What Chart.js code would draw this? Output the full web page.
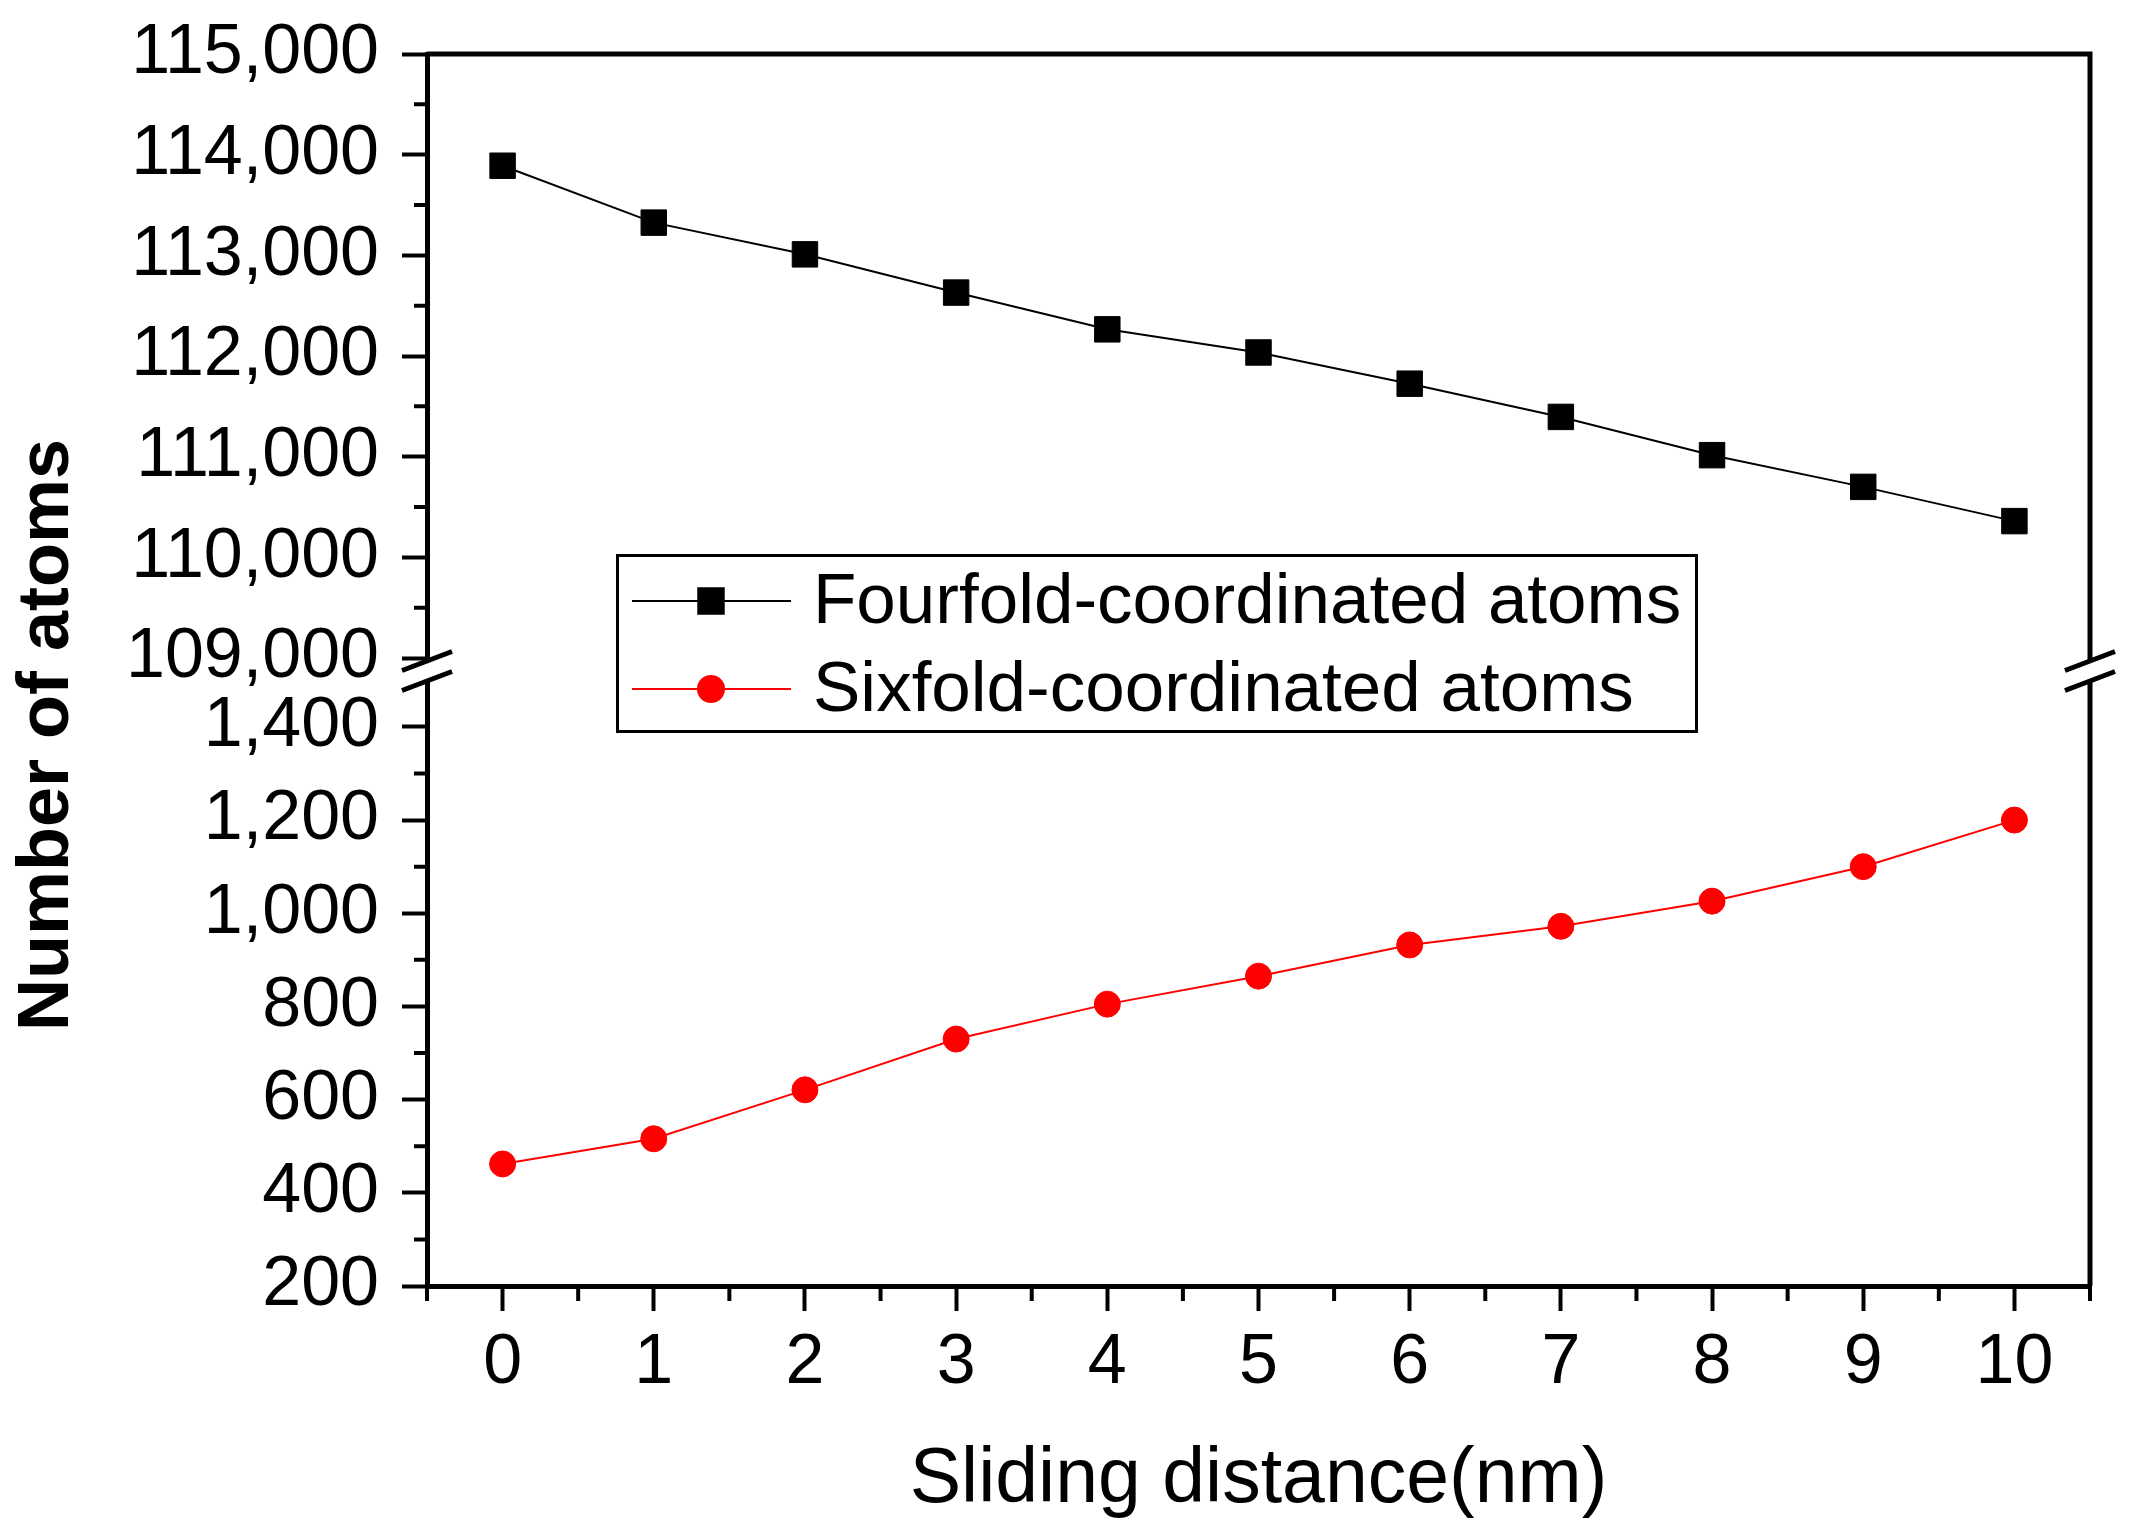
<!DOCTYPE html>
<html lang="en">
<head>
  <meta charset="UTF-8" />
  <title>Number of atoms vs sliding distance</title>
  <script src="https://cdn.jsdelivr.net/npm/chart.js@4"></script>
  <style>
    html, body { margin: 0; padding: 0; background: #fff; }
    canvas { display: block; }
  </style>
</head>
<body>
  <canvas id="atomsChart" width="2139" height="1532"></canvas>
  <script>
    // data
    const distance = [0, 1, 2, 3, 4, 5, 6, 7, 8, 9, 10];
    const fourfold = [113890, 113325, 113010, 112630, 112265, 112035, 111725, 111395, 111015, 110700, 110360];
    const sixfold = [462, 516, 621, 730, 805, 865, 932, 972, 1026, 1100, 1200];
    const seriesNames = ['Fourfold-coordinated atoms', 'Sixfold-coordinated atoms'];

    // tick values
    const upperTicks = [109000, 110000, 111000, 112000, 113000, 114000, 115000];
    const upperMinor = [109500, 110500, 111500, 112500, 113500, 114500];
    const lowerTicks = [200, 400, 600, 800, 1000, 1200, 1400];
    const lowerMinor = [300, 500, 700, 900, 1100, 1300];
    const xMinor = [-0.5, 0.5, 1.5, 2.5, 3.5, 4.5, 5.5, 6.5, 7.5, 8.5, 9.5, 10.5];

    const FONT = '"Liberation Sans", Arial, Helvetica, sans-serif';
    Chart.defaults.font.family = FONT;
    Chart.defaults.color = '#000';

    const axisGrid = {
      drawOnChartArea: false,
      drawTicks: true,
      tickLength: 25,
      tickWidth: 4,
      tickColor: '#000'
    };
    const axisBorder = { display: true, width: 5, color: '#000' };

    // keep tick labels from pushing the plot area around
    function fixY(s) {
      s.width = 427;
      s.paddingTop = 0;
      s.paddingBottom = 0;
    }

    // minor ticks, break marks, frame, y title and legend
    const decorations = {
      id: 'decorations',
      afterDraw(chart) {
        const ctx = chart.ctx;
        const area = chart.chartArea;
        const sx = chart.scales.x, sTop = chart.scales.yTop, sBot = chart.scales.yBottom;

        ctx.save();
        ctx.strokeStyle = '#000';
        ctx.lineWidth = 4;
        ctx.beginPath();
        xMinor.forEach(v => {
          const px = sx.getPixelForValue(v);
          ctx.moveTo(px, area.bottom);
          ctx.lineTo(px, area.bottom + 15);
        });
        upperMinor.forEach(v => {
          const py = sTop.getPixelForValue(v);
          ctx.moveTo(area.left, py);
          ctx.lineTo(area.left - 13, py);
        });
        lowerMinor.forEach(v => {
          const py = sBot.getPixelForValue(v);
          ctx.moveTo(area.left, py);
          ctx.lineTo(area.left - 13, py);
        });
        ctx.stroke();

        // top and right frame
        ctx.lineWidth = 5;
        ctx.beginPath();
        ctx.moveTo(area.left, area.top);
        ctx.lineTo(area.right, area.top);
        ctx.lineTo(area.right, area.bottom);
        ctx.stroke();

        // axis break between the two stacked scales
        const yb = sTop.bottom;
        [area.left, area.right].forEach(x => {
          ctx.fillStyle = '#fff';
          ctx.fillRect(x - 6, yb - 10, 12, 20);
          ctx.beginPath();
          [yb - 10, yb + 10].forEach(y => {
            ctx.moveTo(x - 25, y + 9.5);
            ctx.lineTo(x + 25, y - 9.5);
          });
          ctx.stroke();
        });

        // y axis title
        ctx.fillStyle = '#000';
        ctx.font = 'bold 72px ' + FONT;
        ctx.textAlign = 'center';
        ctx.textBaseline = 'middle';
        ctx.translate(48, 735);
        ctx.rotate(-Math.PI / 2);
        ctx.fillText('Number of atoms', 0, 0);
        ctx.restore();

        // legend
        ctx.save();
        ctx.strokeStyle = '#000';
        ctx.lineWidth = 3;
        ctx.strokeRect(617.5, 555.5, 1079, 176);
        chart.data.datasets.forEach((ds, i) => {
          const y = 601 + i * 88;
          ctx.strokeStyle = ds.borderColor;
          ctx.fillStyle = ds.pointBackgroundColor;
          ctx.lineWidth = ds.borderWidth;
          ctx.beginPath();
          ctx.moveTo(632, y);
          ctx.lineTo(791, y);
          ctx.stroke();
          Chart.helpers.drawPoint(ctx, {
            pointStyle: ds.pointStyle,
            radius: ds.pointRadius,
            rotation: 0,
            borderWidth: 1
          }, 711, y);
          ctx.fillStyle = '#000';
          ctx.font = '71px ' + FONT;
          ctx.textAlign = 'left';
          ctx.textBaseline = 'middle';
          ctx.fillText(ds.label, 813, y + 2);
        });
        ctx.restore();
      }
    };

    new Chart(document.getElementById('atomsChart'), {
      type: 'line',
      data: {
        datasets: [{
          label: seriesNames[0],
          data: distance.map((d, i) => ({ x: d, y: fourfold[i] })),
          yAxisID: 'yTop',
          borderColor: '#000',
          borderWidth: 2,
          pointStyle: 'rect',
          pointRadius: 18,
          pointBackgroundColor: '#000',
          pointBorderColor: '#000',
          pointBorderWidth: 1,
          tension: 0
        }, {
          label: seriesNames[1],
          data: distance.map((d, i) => ({ x: d, y: sixfold[i] })),
          yAxisID: 'yBottom',
          borderColor: '#ff0000',
          borderWidth: 2,
          pointStyle: 'circle',
          pointRadius: 13,
          pointBackgroundColor: '#ff0000',
          pointBorderColor: '#ff0000',
          pointBorderWidth: 1,
          tension: 0
        }]
      },
      options: {
        responsive: false,
        devicePixelRatio: 1,
        animation: false,
        layout: { padding: { top: 54, right: 49, left: 0, bottom: 0 } },
        plugins: {
          legend: { display: false },
          tooltip: { enabled: false }
        },
        scales: {
          x: {
            type: 'linear',
            min: -0.5,
            max: 10.5,
            afterBuildTicks: s => { s.ticks = distance.map(v => ({ value: v })); },
            afterFit: s => { s.height = 246; s.paddingLeft = 0; s.paddingRight = 0; },
            ticks: {
              autoSkip: false,
              maxRotation: 0,
              padding: 11,
              font: { size: 70 },
              callback: v => String(v)
            },
            grid: axisGrid,
            border: axisBorder,
            title: {
              display: true,
              text: 'Sliding distance(nm)',
              font: { size: 77 },
              padding: { top: 0, bottom: 5 }
            }
          },
          yTop: {
            type: 'linear',
            position: 'left',
            stack: 'atoms',
            stackWeight: 617,
            weight: 2,
            min: 108871,
            max: 115000,
            afterBuildTicks: s => { s.ticks = upperTicks.map(v => ({ value: v })); },
            afterFit: fixY,
            ticks: {
              autoSkip: false,
              padding: 23,
              font: { size: 70 },
              callback: v => v.toLocaleString('en-US')
            },
            grid: axisGrid,
            border: axisBorder
          },
          yBottom: {
            type: 'linear',
            position: 'left',
            stack: 'atoms',
            stackWeight: 615,
            weight: 1,
            min: 200,
            max: 1520,
            afterBuildTicks: s => { s.ticks = lowerTicks.map(v => ({ value: v })); },
            afterFit: fixY,
            ticks: {
              autoSkip: false,
              padding: 23,
              font: { size: 70 },
              callback: v => v.toLocaleString('en-US')
            },
            grid: axisGrid,
            border: axisBorder
          }
        }
      },
      plugins: [decorations]
    });
  </script>
</body>
</html>
